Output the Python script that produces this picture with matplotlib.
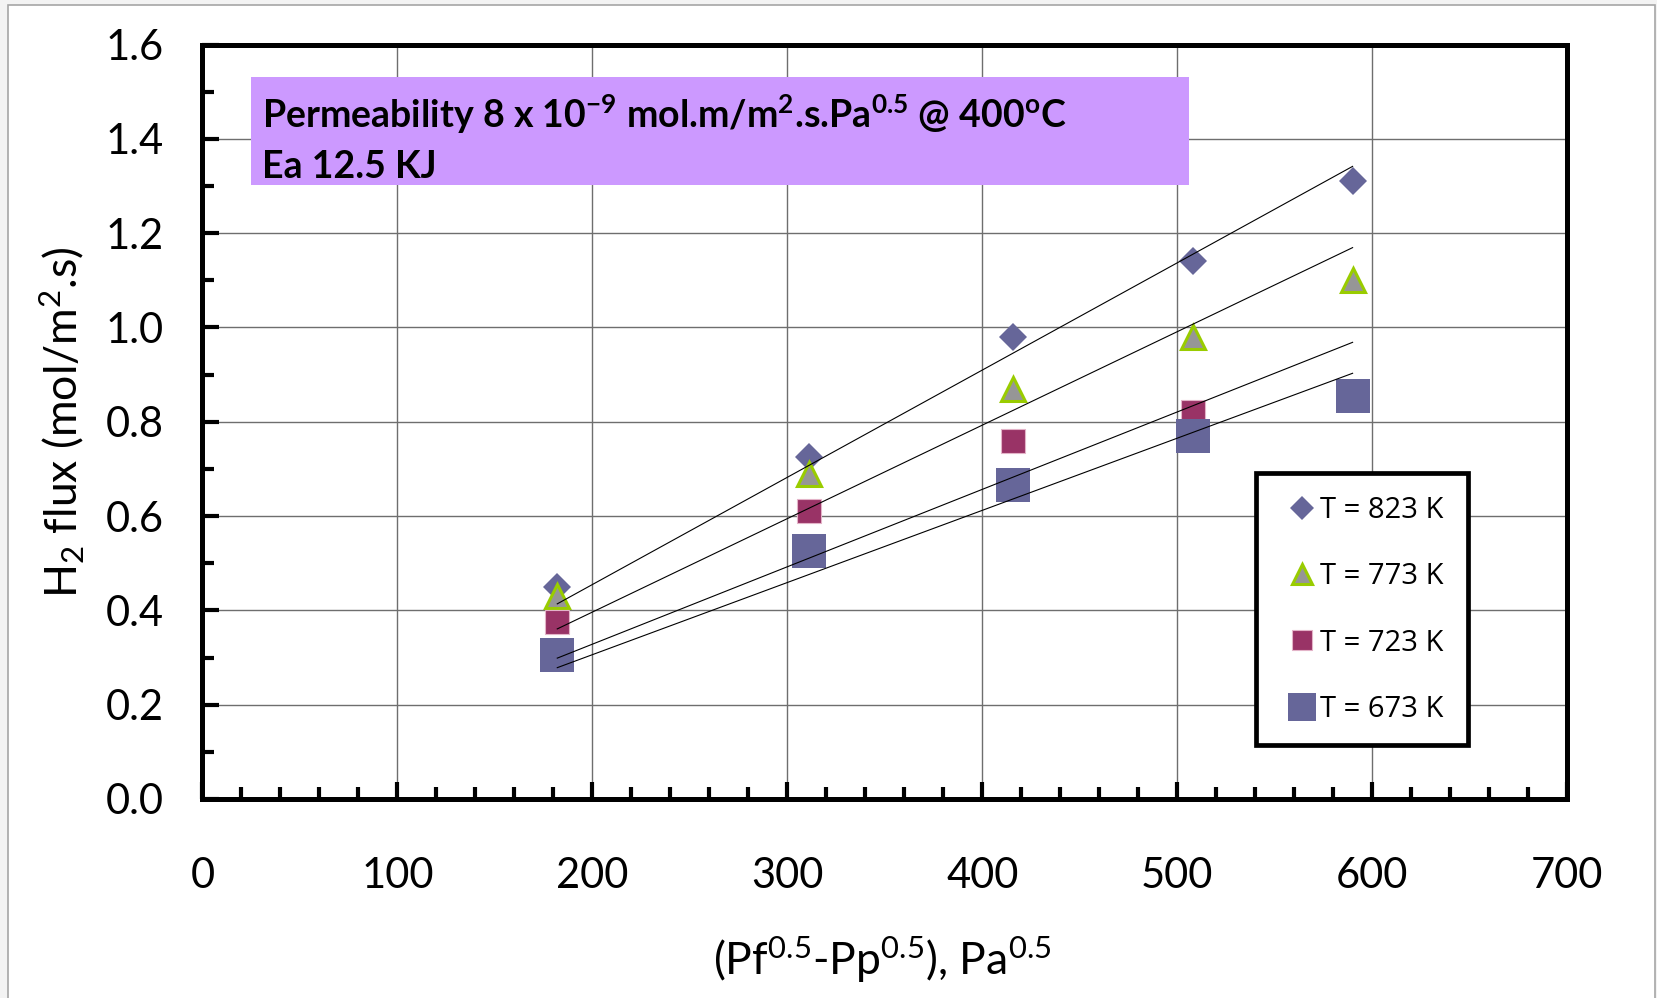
import numpy as np
import matplotlib
matplotlib.use("Agg")
import matplotlib.pyplot as plt
from matplotlib.patches import Rectangle
from matplotlib.ticker import MultipleLocator, FormatStrFormatter

plt.rcParams['font.family'] = ['Lato', 'DejaVu Sans']
plt.rcParams['mathtext.fontset'] = 'custom'
plt.rcParams['mathtext.rm'] = 'Lato'
plt.rcParams['mathtext.it'] = 'Lato:italic'
plt.rcParams['mathtext.bf'] = 'Lato:bold'

# ---- data ----
x_vals = [182, 311, 416, 508, 590]
flux_823 = [0.45, 0.725, 0.98, 1.14, 1.31]
flux_773 = [0.43, 0.69, 0.87, 0.98, 1.10]
flux_723 = [0.375, 0.61, 0.76, 0.82, 0.85]
flux_673 = [0.305, 0.525, 0.665, 0.77, 0.855]
labels = ["T = 823 K", "T = 773 K", "T = 723 K", "T = 673 K"]
x_ticks = [0, 100, 200, 300, 400, 500, 600, 700]
y_ticks = [0.0, 0.2, 0.4, 0.6, 0.8, 1.0, 1.2, 1.4, 1.6]

fig = plt.figure(figsize=(16.57, 9.98), dpi=100)
fig.patch.set_facecolor('#f3f3f3')
fig.patches.append(Rectangle((8 / 1657, -0.01), (1655 - 8) / 1657, 1.01 - 5 / 998,
                             transform=fig.transFigure, facecolor='white',
                             edgecolor='#a6a6a6', lw=1.2, zorder=-10))

ax = fig.add_axes([0.1222, 0.1994, 0.8235, 0.756])
ax.set_zorder(1)
ax.patch.set_alpha(0)
ax.set_xlim(0, 700)
ax.set_ylim(0, 1.6)

x = np.array(x_vals, dtype=float)
series = [
    (flux_823, dict(marker='D', ms=14.3, mfc='#666699', mec='#666699', mew=0)),
    (flux_773, dict(marker='^', ms=17, mfc='#969696', mec='#99CC00', mew=2.2)),
    (flux_723, dict(marker='s', ms=17.5, mfc='#993366', mec='#e3b3c8', mew=0.8)),
    (flux_673, dict(marker='s', ms=24.5, mfc='#666699', mec='#666699', mew=0)),
]
handles = []
for i, (yv, st) in enumerate(series):
    y = np.array(yv)
    h, = ax.plot(x, y, linestyle='none', zorder=3 + i * 0.1, label=labels[i], **st)
    handles.append(h)
for yv in [flux_823, flux_773, flux_723, flux_673]:
    y = np.array(yv)
    slope = np.sum(x * y) / np.sum(x * x)
    xe = np.array([x[0], x[-1]])
    ax.plot(xe, slope * xe, color='black', lw=0.8, zorder=4)

# axes styling
for sp in ax.spines.values():
    sp.set_linewidth(3.6)
    sp.set_color('black')
ax.xaxis.set_minor_locator(MultipleLocator(20))
ax.yaxis.set_minor_locator(MultipleLocator(0.1))
ax.set_xticks(x_ticks)
ax.set_yticks(y_ticks)
ax.yaxis.set_major_formatter(FormatStrFormatter('%.1f'))
ax.tick_params(axis='both', which='major', direction='in', length=12, width=3,
               labelsize=30, top=False, right=False)
ax.tick_params(axis='both', which='minor', direction='in', length=8.5, width=3,
               top=False, right=False)
ax.tick_params(axis='x', which='major', pad=42)
ax.tick_params(axis='y', which='major', pad=28)
ax.grid(True, which='major', color='#6e6e6e', lw=1.0)
ax.set_axisbelow(True)

ax.set_ylabel(r"H$_2$ flux (mol/m$^2$.s)", fontsize=32)
ax.yaxis.set_label_coords(-0.0845, 0.5)
ax.set_xlabel(r"(Pf$^{0.5}$-Pp$^{0.5}$), Pa$^{0.5}$", fontsize=32)
ax.xaxis.set_label_coords(0.498, -0.180)

# annotation box
ax.add_patch(Rectangle((25.1, 1.303), 506 - 25.1, 1.532 - 1.303,
                       facecolor='#CC99FF', edgecolor='none', zorder=2))
ax.text(30.3, 1.4234,
        r"Permeability 8 x 10$^{\mathbf{-9}}$ mol.m/m$^{\mathbf{2}}$.s.Pa$^{\mathbf{0.5}}$ @ 400$^{\mathbf{o}}$C",
        fontsize=27, fontweight='bold', va='baseline', ha='left', zorder=3)
ax.text(30.3, 1.317, "Ea 12.5 KJ", fontsize=27, fontweight='bold',
        va='baseline', ha='left', zorder=3)

# legend frame + legend
ax.add_patch(Rectangle((0.7717, 0.0722), 0.1554, 0.3605, transform=ax.transAxes,
                       facecolor='white', edgecolor='black', lw=3.4, zorder=5))
leg = ax.legend(handles=handles, loc='upper left', bbox_to_anchor=(0.7953, 0.4016),
                frameon=False, borderpad=0, borderaxespad=0, handlelength=1.0,
                handletextpad=0.12, labelspacing=1.28, markerscale=0.83,
                prop={'family': 'Open Sans', 'size': 21})
leg.set_zorder(6)

fig.savefig("out.png", dpi=100, facecolor=fig.get_facecolor())
